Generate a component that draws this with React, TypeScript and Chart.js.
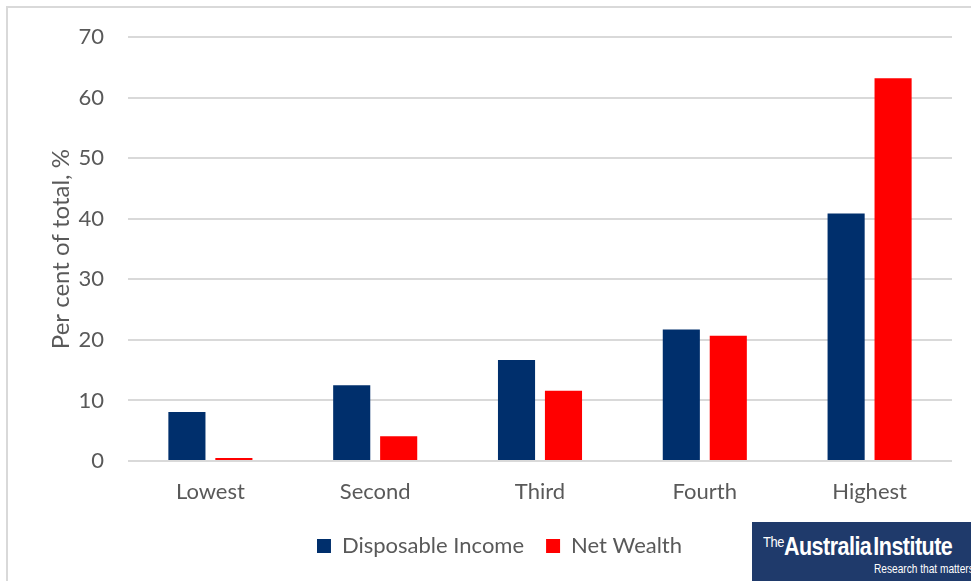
import React, { useEffect, useRef } from "react";
import { Chart, registerables } from "chart.js";

Chart.register(...registerables);

const categories = ["Lowest", "Second", "Third", "Fourth", "Highest"];
const disposableIncome = [8.1, 12.5, 16.7, 21.7, 40.9];
const netWealth = [0.5, 4.1, 11.6, 20.7, 63.2];
const yTicks = [0, 10, 20, 30, 40, 50, 60, 70];

const FONT = "Lato, 'Open Sans', sans-serif";
const GRAY = "#595959";

export default function App() {
  const ref = useRef<HTMLCanvasElement | null>(null);

  useEffect(() => {
    if (!ref.current) return;
    const chart = new Chart(ref.current, {
      type: "bar",
      data: {
        labels: categories,
        datasets: [
          {
            label: "Disposable Income",
            data: disposableIncome,
            backgroundColor: "#002F6C",
            categoryPercentage: 0.57,
            barPercentage: 0.79,
          },
          {
            label: "Net Wealth",
            data: netWealth,
            backgroundColor: "#FF0000",
            categoryPercentage: 0.57,
            barPercentage: 0.79,
          },
        ],
      },
      options: {
        animation: false,
        responsive: false,
        devicePixelRatio: 1,
        layout: { padding: { top: 37, right: 19, left: 47, bottom: 14 } },
        plugins: {
          tooltip: { enabled: false },
          legend: {
            position: "bottom",
            labels: {
              boxWidth: 14,
              boxHeight: 14,
              padding: 22,
              color: GRAY,
              font: { family: FONT, size: 22 },
            },
          },
        },
        scales: {
          x: {
            grid: { display: false },
            border: { display: false },
            ticks: {
              color: GRAY,
              font: { family: FONT, size: 22 },
              padding: 10,
            },
            afterFit: (s: any) => {
              s.height = 52;
            },
          },
          y: {
            min: 0,
            max: 70,
            afterBuildTicks: (s: any) => {
              s.ticks = yTicks.map((v) => ({ value: v }));
            },
            grid: { color: "#D9D9D9", lineWidth: 2, drawTicks: false },
            border: { display: false },
            ticks: {
              color: GRAY,
              font: { family: FONT, size: 22 },
              padding: 24,
            },
            title: {
              display: true,
              text: "Per cent of total, %",
              color: GRAY,
              font: { family: FONT, size: 24 },
              padding: { top: 0, bottom: 10 },
            },
            afterFit: (s: any) => {
              s.width = 81;
            },
          },
        },
      },
    });
    return () => chart.destroy();
  }, []);

  return (
    <div style={{ position: "fixed", left: 0, top: 0, width: 971, height: 581, background: "#fff", overflow: "hidden" }}>
      <div
        style={{
          position: "absolute",
          left: 6,
          top: 6,
          width: 1000,
          height: 1000,
          borderLeft: "2px solid #D9D9D9",
          borderTop: "2px solid #D9D9D9",
        }}
      />
      <canvas ref={ref} width={971} height={581} style={{ position: "absolute", left: 0, top: 0 }} />
      <div
        style={{
          position: "absolute",
          left: 752,
          top: 522,
          width: 219,
          height: 59,
          background: "#1F3A6B",
          color: "#fff",
          overflow: "hidden",
          fontFamily: "'Liberation Sans', Arial, sans-serif",
        }}
      >
        <div
          style={{
            position: "absolute",
            left: 11,
            top: 12,
            whiteSpace: "nowrap",
            lineHeight: 1,
            transform: "scaleX(0.86)",
            transformOrigin: "left top",
          }}
        >
          <span style={{ fontSize: 15, verticalAlign: "top", letterSpacing: -0.5 }}>The</span>
          <span style={{ fontSize: 25, fontWeight: "bold", letterSpacing: -0.6, wordSpacing: -4 }}>Australia Institute</span>
        </div>
        <div
          style={{
            position: "absolute",
            left: 122,
            top: 40,
            whiteSpace: "nowrap",
            fontSize: 13,
            lineHeight: 1,
            transform: "scaleX(0.78)",
            transformOrigin: "left top",
          }}
        >
          Research that matters
        </div>
      </div>
    </div>
  );
}
